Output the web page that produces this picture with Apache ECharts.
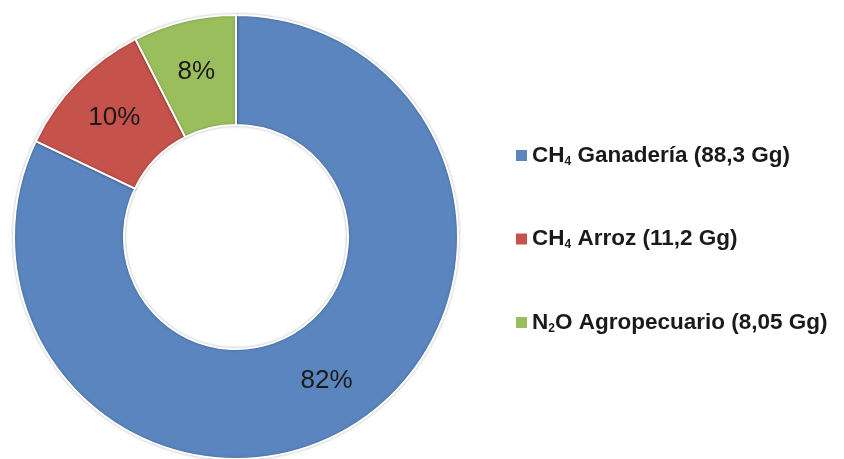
<!DOCTYPE html>
<html>
<head>
<meta charset="utf-8">
<script src="https://cdn.jsdelivr.net/npm/echarts@6/dist/echarts.min.js"></script>
<style>
  html, body { margin: 0; padding: 0; background: #fff; }
  #chart { width: 844px; height: 459px; }
</style>
</head>
<body>
<div id="chart"></div>
<script>
// data
const names = ['CH4 Ganadería', 'CH4 Arroz', 'N2O Agropecuario'];
const values = [88.3, 11.2, 8.05];
const legendTexts = [
  'CH{sub|4} Ganadería (88,3 Gg)',
  'CH{sub|4} Arroz (11,2 Gg)',
  'N{sub|2}O Agropecuario (8,05 Gg)'
];
const colors = ['#5A85BE', '#C5524B', '#9BBE5C'];

const chart = echarts.init(document.getElementById('chart'));

const option = {
  animation: false,
  color: colors,
  legend: {
    orient: 'vertical',
    left: 511,
    top: 139,
    itemGap: 60,
    itemWidth: 11,
    itemHeight: 11,
    itemStyle: { borderWidth: 0, shadowBlur: 0 },
    icon: 'rect',
    formatter: function (name) {
      return legendTexts[names.indexOf(name)];
    },
    textStyle: {
      fontFamily: 'Liberation Sans, Arial, sans-serif',
      fontSize: 22.5,
      fontWeight: 'bold',
      color: '#1a1a1a',
      rich: {
        sub: {
          fontFamily: 'Liberation Sans, Arial, sans-serif',
          fontSize: 12,
          fontWeight: 'bold',
          color: '#1a1a1a',
          verticalAlign: 'bottom',
          padding: [12, 0, 0, 0]
        }
      }
    },
    data: names
  },
  series: [{
    type: 'pie',
    center: [236, 237],
    radius: [112, 222],
    startAngle: 90,
    clockwise: true,
    percentPrecision: 0,
    itemStyle: {
      borderColor: '#fff',
      borderWidth: 2,
      shadowColor: 'rgba(0,0,0,0.25)',
      shadowBlur: 3
    },
    label: {
      show: true,
      position: 'inside',
      formatter: '{d}%',
      fontFamily: 'Liberation Sans, Arial, sans-serif',
      fontSize: 26,
      color: '#1a1a1a'
    },
    labelLine: { show: false },
    data: names.map((n, i) => ({ name: n, value: values[i] }))
  }]
};

chart.setOption(option);
</script>
</body>
</html>
